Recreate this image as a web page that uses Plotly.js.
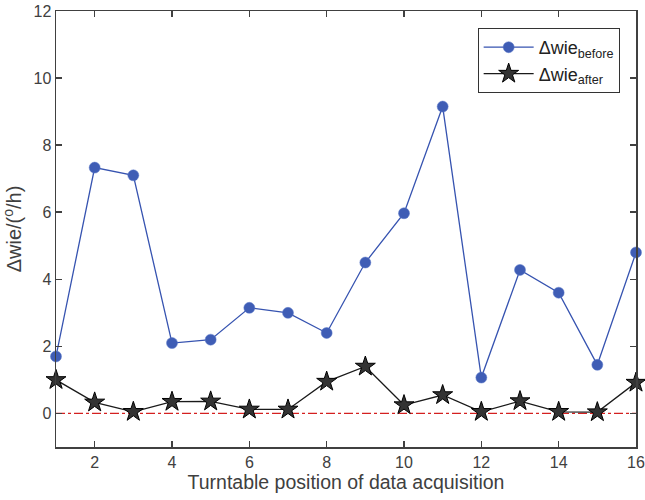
<!DOCTYPE html>
<html><head><meta charset="utf-8">
<script src="https://cdn.plot.ly/plotly-3.0.1.min.js"></script>
<style>body{margin:0;background:#fff}#c{width:645px;height:500px}</style>
</head><body><div id="c"></div>
<script>
var positions = [1,2,3,4,5,6,7,8,9,10,11,12,13,14,15,16];
var wieBefore = [1.70,7.33,7.10,2.10,2.20,3.15,3.00,2.40,4.50,5.97,9.15,1.07,4.28,3.60,1.45,4.80];
var wieAfter = [1.00,0.33,0.05,0.35,0.36,0.12,0.12,0.95,1.40,0.25,0.55,0.05,0.37,0.05,0.04,0.92];
var xTicks = [2,4,6,8,10,12,14,16];
var yTicks = [0,2,4,6,8,10,12];
var refLevel = 0;

var axisColor = '#404040';
var traces = [
  {x: positions, y: wieBefore, mode: 'lines+markers', name: 'Δwie<sub>before</sub>',
   cliponaxis: false,
   line: {color: '#3653b0', width: 1.3},
   marker: {symbol: 'circle', size: 11, color: '#3f5db5', line: {color: '#5a78c8', width: 0.5}}},
  {x: positions, y: wieAfter, mode: 'lines+markers', name: 'Δwie<sub>after</sub>',
   cliponaxis: false,
   line: {color: '#1a1a1a', width: 1.3},
   marker: {symbol: 'star', size: 15, color: '#333333', line: {color: '#000000', width: 1}}}
];
var layout = {
  width: 645, height: 500,
  margin: {l: 56, r: 9, t: 11, b: 53},
  paper_bgcolor: '#fff', plot_bgcolor: '#fff',
  font: {family: 'Liberation Sans, Arial, sans-serif', color: axisColor, size: 16},
  showlegend: true,
  legend: {x: 0.727, y: 0.961, xanchor: 'left', yanchor: 'top',
    bgcolor: '#fff', bordercolor: '#333', borderwidth: 1, itemwidth: 50,
    font: {size: 18, color: '#222'}, tracegroupgap: 0},
  xaxis: {range: [1, 16], tickvals: xTicks, ticks: 'inside', ticklen: 6, tickwidth: 1.5,
    tickcolor: axisColor, showline: true, linecolor: axisColor, linewidth: 1.5, mirror: 'ticks',
    showgrid: false, zeroline: false, tickfont: {size: 16, color: axisColor},
    ticklabeloverflow: 'allow',
    title: {text: 'Turntable position of data acquisition', font: {size: 19.5, color: axisColor}, standoff: 4}},
  yaxis: {range: [-1, 12], tickvals: yTicks, ticks: 'inside', ticklen: 6, tickwidth: 1.5,
    tickcolor: axisColor, showline: true, linecolor: axisColor, linewidth: 1.5, mirror: 'ticks',
    showgrid: false, zeroline: false, tickfont: {size: 16, color: axisColor},
    ticklabeloverflow: 'allow',
    title: {text: 'Δwie/(<sup>o</sup>/h)', font: {size: 20, color: axisColor}, standoff: 8}},
  shapes: [{type: 'line', xref: 'paper', x0: 0, x1: 1, yref: 'y', y0: refLevel, y1: refLevel,
    line: {color: '#d42020', width: 1.3, dash: 'dashdot'}, layer: 'below'}]
};
Plotly.newPlot('c', traces, layout, {staticPlot: true, displayModeBar: false});
</script></body></html>
